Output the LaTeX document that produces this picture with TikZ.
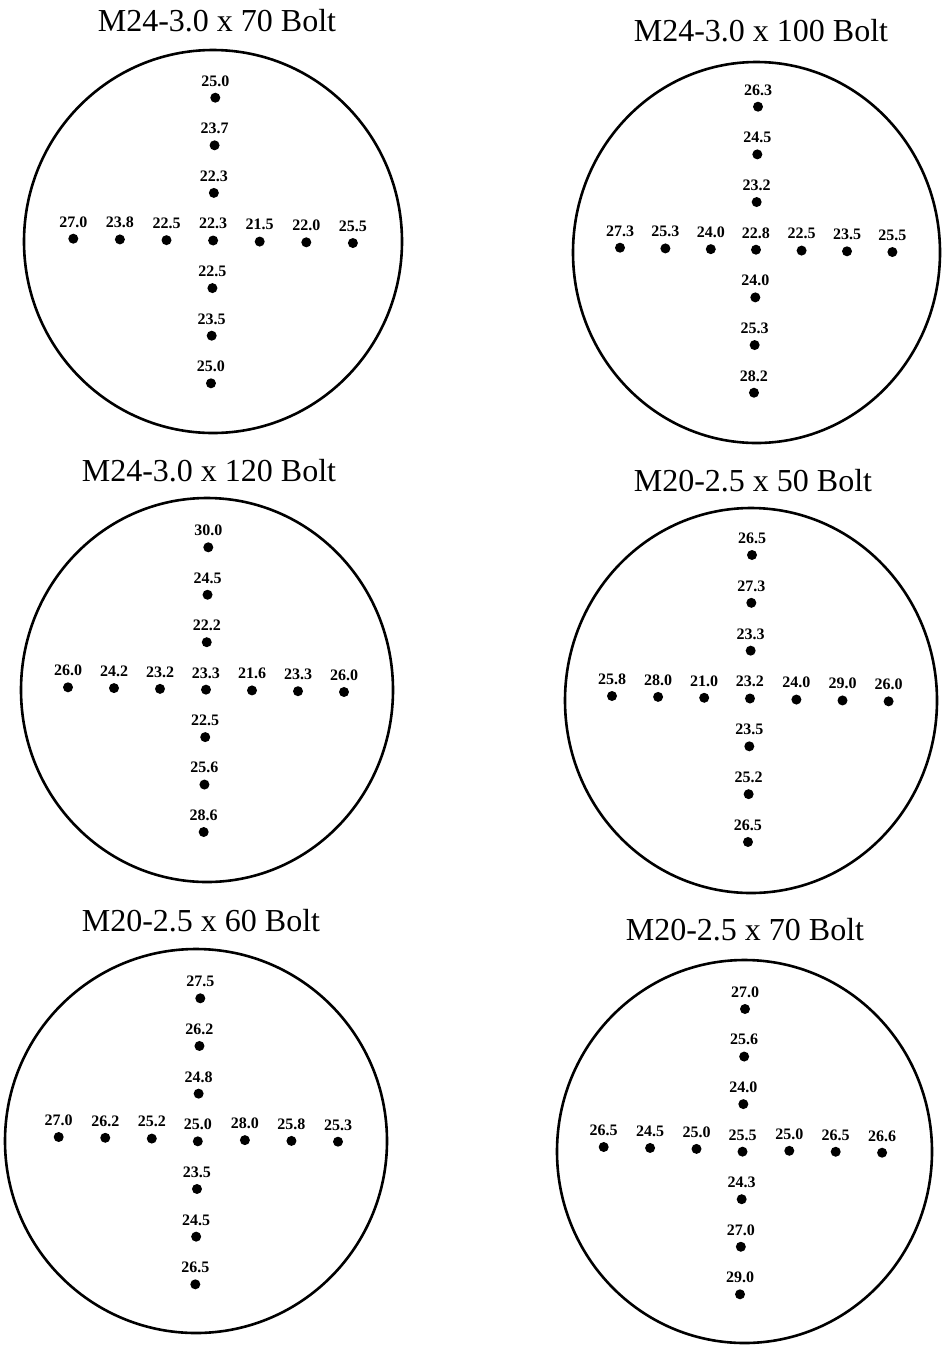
\documentclass[tikz,border=0pt]{standalone}
\usepackage{fontspec}
\setmainfont{Liberation Serif}
\usepackage{tikz}

\begin{document}
\begin{tikzpicture}[
x=1pt, y=-1pt,
ring/.style={draw=black, line width=2.6pt},
dot/.style={circle, fill=black, inner sep=0pt, minimum size=10pt},
val/.style={font=\fontsize{16}{16}\selectfont\bfseries, inner sep=0pt, label distance=6pt},
title/.style={font=\fontsize{32}{32}\selectfont, inner sep=0pt, text height=0.662em, text depth=0pt}
]
\useasboundingbox (0,0) rectangle (944,1353);

%M24-3.0 x 70
\node[title] (t1) at (217,28) {M24-3.0 x 70 Bolt};
\draw[ring] (213,241.5) ellipse [x radius=189, y radius=191.5];
\foreach \v [count=\n from 0] in {25.0,23.7,22.3,22.3,22.5,23.5,25.0}
  \node[dot, label={[val, name=l1v\n]above:\v}] (d1v\n) at ({215.3-0.72*\n},{97.7+47.6*\n}) {};
\foreach \n/\v in {0/27.0,1/23.8,2/22.5,4/21.5,5/22.0,6/25.5}
  \node[dot, label={[val, name=l1h\n]above:\v}] (d1h\n) at ({73.3+46.6*\n},{238.7+0.72*\n}) {};

%M24-3.0 x 100
\node[title] (t2) at (761,38) {M24-3.0 x 100 Bolt};
\draw[ring] (756.5,252.5) ellipse [x radius=183.5, y radius=190.5];
\foreach \v [count=\n from 0] in {26.3,24.5,23.2,22.8,24.0,25.3,28.2}
  \node[dot, label={[val, name=l2v\n]above:\v}] (d2v\n) at ({758-0.67*\n},{106.7+47.67*\n}) {};
\foreach \n/\v in {0/27.3,1/25.3,2/24.0,4/22.5,5/23.5,6/25.5}
  \node[dot, label={[val, name=l2h\n]above:\v}] (d2h\n) at ({620+45.4*\n},{247.7+0.72*\n}) {};

%M24-3.0 x 120
\node[title] (t3) at (209,478) {M24-3.0 x 120 Bolt};
\draw[ring] (207,690) ellipse [x radius=186, y radius=192];
\foreach \v [count=\n from 0] in {30.0,24.5,22.2,23.3,22.5,25.6,28.6}
  \node[dot, label={[val, name=l3v\n]above:\v}] (d3v\n) at ({208.3-0.77*\n},{547.3+47.45*\n}) {};
\foreach \n/\v in {0/26.0,1/24.2,2/23.2,4/21.6,5/23.3,6/26.0}
  \node[dot, label={[val, name=l3h\n]above:\v}] (d3h\n) at ({68+46*\n},{687.3+0.78*\n}) {};

%M20-2.5 x 50
\node[title] (t4) at (753,488) {M20-2.5 x 50 Bolt};
\draw[ring] (751,700.5) ellipse [x radius=186, y radius=192.5];
\foreach \v [count=\n from 0] in {26.5,27.3,23.3,23.2,23.5,25.2,26.5}
  \node[dot, label={[val, name=l4v\n]above:\v}] (d4v\n) at ({752-0.67*\n},{555+47.83*\n}) {};
\foreach \n/\v in {0/25.8,1/28.0,2/21.0,4/24.0,5/29.0,6/26.0}
  \node[dot, label={[val, name=l4h\n]above:\v}] (d4h\n) at ({612+46.1*\n},{696+0.89*\n}) {};

%M20-2.5 x 60
\node[title] (t5) at (201,928) {M20-2.5 x 60 Bolt};
\draw[ring] (196,1141) ellipse [x radius=191, y radius=192];
\foreach \v [count=\n from 0] in {27.5,26.2,24.8,25.0,23.5,24.5,26.5}
  \node[dot, label={[val, name=l5v\n]above:\v}] (d5v\n) at ({200.3-0.83*\n},{998.3+47.67*\n}) {};
\foreach \n/\v in {0/27.0,1/26.2,2/25.2,4/28.0,5/25.8,6/25.3}
  \node[dot, label={[val, name=l5h\n]above:\v}] (d5h\n) at ({58.7+46.55*\n},{1137+0.78*\n}) {};

%M20-2.5 x 70
\node[title] (t6) at (745,937.5) {M20-2.5 x 70 Bolt};
\draw[ring] (744.5,1151.5) ellipse [x radius=187.5, y radius=191.5];
\foreach \v [count=\n from 0] in {27.0,25.6,24.0,25.5,24.3,27.0,29.0}
  \node[dot, label={[val, name=l6v\n]above:\v}] (d6v\n) at ({745-0.83*\n},{1009+47.55*\n}) {};
\foreach \n/\v in {0/26.5,1/24.5,2/25.0,4/25.0,5/26.5,6/26.6}
  \node[dot, label={[val, name=l6h\n]above:\v}] (d6h\n) at ({603.7+46.4*\n},{1147+0.95*\n}) {};
\end{tikzpicture}
\end{document}
